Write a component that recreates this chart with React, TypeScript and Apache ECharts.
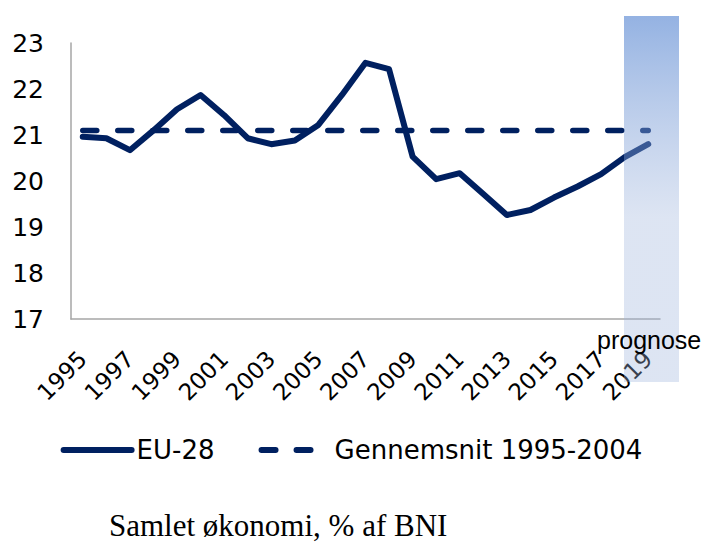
import React, { useEffect, useRef } from "react";
import * as echarts from "echarts";

const years = [
  "1995", "1996", "1997", "1998", "1999", "2000", "2001", "2002", "2003", "2004",
  "2005", "2006", "2007", "2008", "2009", "2010", "2011", "2012", "2013", "2014",
  "2015", "2016", "2017", "2018", "2019",
];
const eu28 = [
  20.96, 20.93, 20.67, 21.1, 21.56, 21.87, 21.43, 20.93, 20.8, 20.88,
  21.22, 21.87, 22.57, 22.43, 20.53, 20.04, 20.17, 19.72, 19.26, 19.37,
  19.64, 19.88, 20.15, 20.52, 20.8,
];
const avgValue = 21.1;
const avg = years.map(() => avgValue);
const yMin = 17;
const yMax = 23;
const seriesNames = ["EU-28", "Gennemsnit 1995-2004"];
const prognoseLabel = "prognose";
const footnote = "Samlet økonomi, % af BNI";

const NAVY = "#002060";
const AXIS = "#a6a6a6";

export default function App() {
  const ref = useRef<HTMLDivElement>(null);
  useEffect(() => {
    if (!ref.current) return;
    const chart = echarts.init(ref.current, null, { renderer: "svg" });
    chart.setOption({
      animation: false,
      backgroundColor: "#ffffff",
      grid: { left: 71, right: 43, top: 43, bottom: 223, containLabel: false },
      legend: {
        top: 432,
        left: "center",
        itemWidth: 68,
        itemHeight: 14,
        itemGap: 44,
        itemStyle: { opacity: 0 },
        lineStyle: { width: 6, cap: "round" },
        textStyle: { fontFamily: "DejaVu Sans", fontSize: 26, color: "#000" },
        data: seriesNames,
      },
      xAxis: {
        type: "category",
        data: years,
        boundaryGap: true,
        axisLine: { show: true, lineStyle: { color: AXIS, width: 1.5 } },
        axisTick: { show: false },
        axisLabel: {
          interval: 1,
          rotate: 45,
          margin: 36,
          fontFamily: "DejaVu Sans",
          fontSize: 23,
          color: "#000",
        },
        splitLine: { show: false },
      },
      yAxis: {
        type: "value",
        min: yMin,
        max: yMax,
        interval: 1,
        axisLine: { show: true, lineStyle: { color: AXIS, width: 1.5 } },
        axisTick: { show: false },
        splitLine: { show: false },
        axisLabel: {
          margin: 27,
          fontFamily: "DejaVu Sans",
          fontSize: 25,
          color: "#000",
        },
      },
      series: [
        {
          name: seriesNames[0],
          type: "line",
          data: eu28,
          symbol: "none",
          lineStyle: { color: NAVY, width: 6, join: "round", cap: "round" },
          itemStyle: { color: NAVY },
          z: 3,
        },
        {
          name: seriesNames[1],
          type: "line",
          data: avg,
          symbol: "none",
          lineStyle: { color: NAVY, width: 5.5, type: [14, 21], cap: "round" },
          itemStyle: { color: NAVY },
          z: 2,
        },
      ],
      graphic: [
        {
          type: "rect",
          z: 100,
          silent: true,
          shape: { x: 624, y: 16, width: 55, height: 366 },
          style: {
            fill: new echarts.graphic.LinearGradient(0, 0, 0, 1, [
              { offset: 0, color: "rgba(77,127,207,0.6)" },
              { offset: 0.55, color: "rgba(158,180,220,0.35)" },
              { offset: 1, color: "rgba(158,180,220,0.35)" },
            ]),
          },
        },
        {
          type: "text",
          z: 101,
          silent: true,
          x: 597,
          y: 340,
          style: {
            text: prognoseLabel,
            fontFamily: "Liberation Sans",
            fontSize: 25,
            fill: "#000",
            verticalAlign: "middle",
            align: "left",
          },
        },
        {
          type: "text",
          z: 101,
          silent: true,
          x: 109,
          y: 525,
          style: {
            text: footnote,
            fontFamily: "Liberation Serif",
            fontSize: 31,
            fill: "#000",
            verticalAlign: "middle",
            align: "left",
          },
        },
      ],
    });
    return () => chart.dispose();
  }, []);
  return (
    <div
      ref={ref}
      style={{ position: "absolute", left: 0, top: 0, width: 703, height: 542 }}
    />
  );
}
